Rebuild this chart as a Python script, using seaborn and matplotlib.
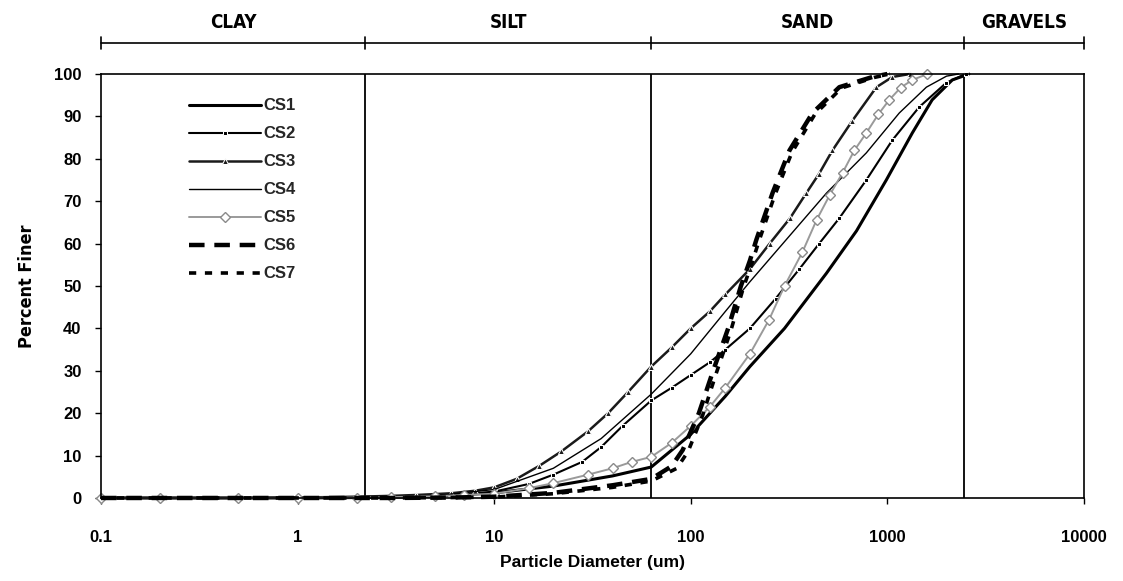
import matplotlib
matplotlib.use("Agg")
import matplotlib.pyplot as plt
import matplotlib.transforms as mtransforms
import numpy as np
import pandas as pd
import seaborn as sns
from matplotlib import font_manager as fm
from matplotlib.ticker import FixedLocator, FixedFormatter, NullLocator

# particle diameter (um) and percent finer
cs1_d = [0.1, 0.5, 1, 2, 3, 5, 10, 20, 40, 63, 100, 150, 200, 300, 490, 697, 988, 1340, 1690, 2140, 2600]
cs1_p = [0, 0, 0, 0.1, 0.2, 0.4, 1.2, 2.8, 5.2, 7.3, 15, 24, 31, 40, 53, 63, 75, 86.1, 93.9, 98.6, 100]

cs2_d = [0.1, 0.2, 0.5, 1, 2, 3, 5, 7, 10, 15, 20, 28, 35, 45, 63, 80, 100, 125, 150, 200,
         270, 357, 450, 570, 782, 1060, 1452, 1990, 2500]
cs2_p = [0, 0, 0, 0, 0.1, 0.2, 0.5, 0.9, 1.5, 3.3, 5.5, 8.5, 12, 17, 23, 26, 29, 32, 35, 40,
         47, 54, 60, 66, 75, 84.4, 92.2, 97.9, 100]

cs3_d = [0.1, 0.2, 0.5, 1, 2, 3, 4, 6, 8, 10, 13, 17, 22, 30, 38, 48, 63, 80, 100, 125, 150,
         200, 252, 320, 387, 450, 526, 664, 880, 1060, 1300]
cs3_p = [0, 0, 0, 0.1, 0.3, 0.5, 0.7, 1.1, 1.7, 2.5, 4.5, 7.6, 11, 15.7, 20, 25, 31, 35.5, 40, 44, 48,
         54, 60, 66, 71.9, 76.5, 82, 89, 96.9, 99.3, 100]

cs4_d = [0.1, 1, 2, 3, 5, 10, 20, 35, 63, 100, 150, 200, 307, 490, 782, 1150, 1580, 2000, 2300]
cs4_p = [0, 0, 0.1, 0.2, 0.5, 2, 7, 14, 24.5, 34, 44, 51, 61, 71.9, 81.4, 90.8, 96.9, 99.5, 100]

cs5_d = [0.1, 0.2, 0.5, 1, 2, 3, 5, 7, 10, 15, 20, 30, 40, 50, 63, 80, 100, 125, 150, 200, 250,
         300, 370, 437, 510, 592, 680, 782, 900, 1023, 1170, 1340, 1600]
cs5_p = [0, 0, 0, 0, 0.1, 0.2, 0.4, 0.7, 1, 2.3, 3.5, 5.5, 7, 8.5, 9.7, 13, 17, 21.5, 26, 34, 42,
         50, 58, 65.6, 71.5, 76.7, 82, 86.1, 90.5, 93.9, 96.8, 98.6, 100]

cs6_d = [0.1, 1, 3, 6, 10, 20, 40, 63, 80, 91, 110, 130, 155, 180, 200, 216, 261, 318, 416, 570, 840, 1000]
cs6_p = [0, 0, 0, 0.1, 0.3, 1.2, 3, 4.5, 7.5, 11.3, 20, 30, 40, 50, 56, 61, 72, 82, 90.8, 96.9, 99.3, 100]

cs7_d = [0.1, 1, 3, 6, 10, 20, 40, 63, 85, 97, 115, 135, 160, 185, 205, 222, 268, 327, 428, 585, 860, 1030]
cs7_p = [0, 0, 0, 0.1, 0.2, 1, 2.5, 4, 7, 11, 19.5, 29.5, 39.5, 49.5, 55.5, 60.5, 71.5, 81.5, 90.5, 96.7, 99.2, 100]

samples = ["CS1", "CS2", "CS3", "CS4", "CS5", "CS6", "CS7"]
diams = [cs1_d, cs2_d, cs3_d, cs4_d, cs5_d, cs6_d, cs7_d]
finer = [cs1_p, cs2_p, cs3_p, cs4_p, cs5_p, cs6_p, cs7_p]

zone_names = ["CLAY", "SILT", "SAND", "GRAVELS"]
zone_bounds = [0.1, 2.2, 63, 2450, 10000]

x_ticks = [0.1, 1, 10, 100, 1000, 10000]
x_tick_labels = ["0.1", "1", "10", "100", "1000", "10000"]
y_ticks = list(range(0, 101, 10))

df = pd.concat(
    [pd.DataFrame({"sample": s, "diameter": d, "finer": p}) for s, d, p in zip(samples, diams, finer)],
    ignore_index=True,
)

styles = {
    "CS1": dict(color="black", lw=2.2, ls="-"),
    "CS2": dict(color="black", lw=1.5, ls="-", marker="s", ms=3),
    "CS3": dict(color="#1a1a1a", lw=1.8, ls="-", marker="^", ms=5),
    "CS4": dict(color="black", lw=1.0, ls="-"),
    "CS5": dict(color="#9a9a9a", lw=1.4, ls="-", marker="D", ms=5, mfc="white", mec="#8a8a8a", mew=1),
    "CS6": dict(color="black", lw=3.2, ls=(0, (3.5, 2.2))),
    "CS7": dict(color="black", lw=2.6, ls=(0, (2, 2.4))),
}

sns.set_theme(style="white")
plt.rcParams["font.family"] = ["Liberation Sans", "DejaVu Sans"]

# a condensed bold face for the headings, if one is installed
narrow = fm.FontProperties(family="DejaVu Sans", weight="bold")
for f in fm.fontManager.ttflist:
    base = f.fname.replace("\\", "/").split("/")[-1]
    if base in ("DejaVuSansCondensed-Bold.ttf", "LiberationSansNarrow-Bold.ttf"):
        narrow = fm.FontProperties(fname=f.fname)
        break

fig = plt.figure(figsize=(11.23, 5.81), dpi=100)
ax = fig.add_axes([0.0899, 0.1429, 0.8753, 0.7297])

for name in samples:
    sub = df[df["sample"] == name]
    sns.lineplot(data=sub, x="diameter", y="finer", ax=ax, sort=False,
                 estimator=None, label=name, clip_on=False, **styles[name])

ax.set_xscale("log")
ax.set_xlim(0.1, 10000)
ax.set_ylim(0, 100)

# zone boundaries inside the plot
for b in zone_bounds[1:-1]:
    ax.axvline(b, color="black", lw=1.3, zorder=0)

ax.xaxis.set_major_locator(FixedLocator(x_ticks))
ax.xaxis.set_major_formatter(FixedFormatter(x_tick_labels))
ax.xaxis.set_minor_locator(NullLocator())
ax.yaxis.set_major_locator(FixedLocator(y_ticks))

ax.tick_params(axis="both", which="major", direction="out", length=4, width=1,
               color="black", labelsize=12, labelcolor="black")
ax.tick_params(axis="x", pad=19)
ax.tick_params(axis="y", pad=10)
ax.tick_params(left=True, bottom=True)
for lab in ax.get_xticklabels() + ax.get_yticklabels():
    lab.set_fontweight("bold")

for sp in ax.spines.values():
    sp.set_color("black")
    sp.set_linewidth(1.2)
    sp.set_visible(True)

ax.set_xlabel("Particle Diameter (um)", fontsize=12.5, fontweight="bold", color="black")
ax.xaxis.set_label_coords(0.5, -0.135)
ax.set_ylabel("Percent Finer", fontproperties=narrow, fontsize=13, color="black")
ax.yaxis.set_label_coords(-0.066, 0.5)

# zone bar above the plot
trans = mtransforms.blended_transform_factory(ax.transData, fig.transFigure)
ax.plot([zone_bounds[0], zone_bounds[-1]], [0.926, 0.926], color="black", lw=1.2,
        transform=trans, clip_on=False)
for b in zone_bounds:
    ax.plot([b, b], [0.915, 0.937], color="black", lw=1.2, transform=trans, clip_on=False)
for name, lo, hi in zip(zone_names, zone_bounds[:-1], zone_bounds[1:]):
    ax.text(np.sqrt(lo * hi), 0.962, name, transform=trans, ha="center", va="center",
            fontproperties=narrow, fontsize=13.5, color="black")

leg = ax.legend(loc="upper left", bbox_to_anchor=(0.083, 0.958), frameon=False,
                handlelength=4.3, handletextpad=0.15, labelspacing=0.78, numpoints=1,
                fontsize=12, borderaxespad=0)
for t in leg.get_texts():
    t.set_fontweight("bold")

fig.savefig("out.png", dpi=100, facecolor="white")
